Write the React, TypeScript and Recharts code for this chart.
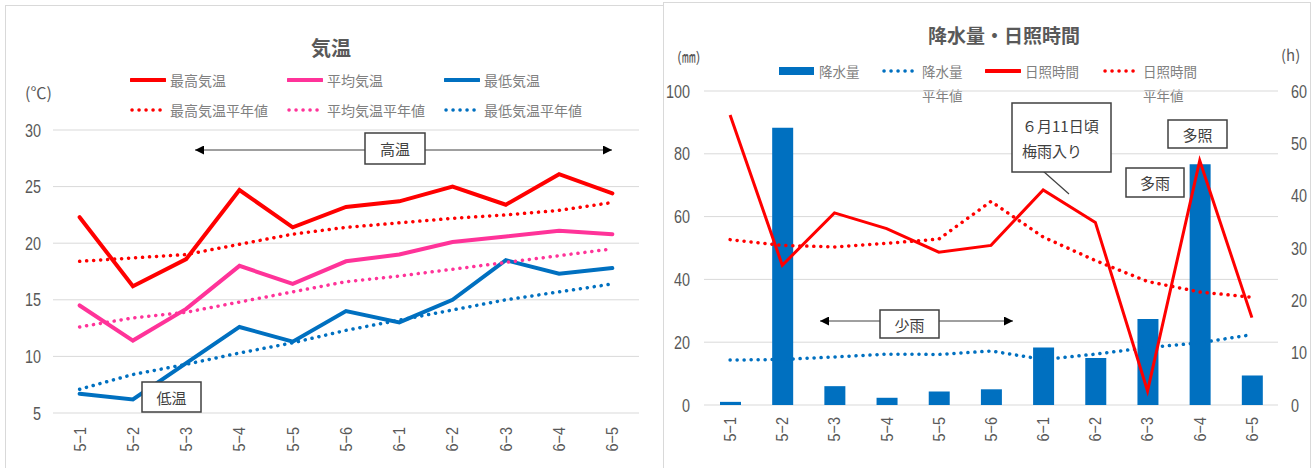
import { Bar, CartesianGrid, ComposedChart, Line, XAxis, YAxis } from 'recharts'

const periods = ['5−1', '5−2', '5−3', '5−4', '5−5', '5−6', '6−1', '6−2', '6−3', '6−4', '6−5']

// 気温 (℃)
const maxTemp = [22.3, 16.2, 18.6, 24.7, 21.4, 23.2, 23.7, 25.0, 23.4, 26.1, 24.4]
const maxTempNormal = [18.4, 18.7, 19.0, 19.9, 20.8, 21.4, 21.8, 22.2, 22.5, 22.9, 23.6]
const meanTemp = [14.5, 11.4, 14.2, 18.0, 16.4, 18.4, 19.0, 20.1, 20.6, 21.1, 20.8]
const meanTempNormal = [12.6, 13.4, 13.9, 14.8, 15.7, 16.6, 17.1, 17.7, 18.3, 18.9, 19.5]
const minTemp = [6.7, 6.2, 9.4, 12.6, 11.3, 14.0, 13.0, 15.0, 18.5, 17.3, 17.8]
const minTempNormal = [7.1, 8.4, 9.3, 10.3, 11.2, 12.3, 13.2, 14.1, 15.0, 15.7, 16.4]
const tempTicks = [5, 10, 15, 20, 25, 30]

// 降水量 (mm) / 日照時間 (h)
const precip = [1.0, 88.3, 6.0, 2.3, 4.3, 5.0, 18.3, 15.0, 27.4, 76.7, 9.4]
const precipNormal = [14.3, 14.5, 15.3, 16.2, 16.1, 17.2, 14.5, 16.2, 18.3, 19.8, 22.4]
const sunshine = [55.4, 26.7, 36.7, 33.7, 29.2, 30.5, 41.1, 34.9, 2.7, 46.7, 16.7]
const sunshineNormal = [31.6, 30.5, 30.2, 30.9, 31.7, 38.9, 32.1, 27.6, 23.6, 21.6, 20.6]
const precipTicks = [0, 20, 40, 60, 80, 100]
const sunshineTicks = [0, 10, 20, 30, 40, 50, 60]

const tempData = periods.map((period, i) => ({
  period,
  maxTemp: maxTemp[i],
  maxTempNormal: maxTempNormal[i],
  meanTemp: meanTemp[i],
  meanTempNormal: meanTempNormal[i],
  minTemp: minTemp[i],
  minTempNormal: minTempNormal[i],
}))

const rainData = periods.map((period, i) => ({
  period,
  precip: precip[i],
  precipNormal: precipNormal[i],
  sunshine: sunshine[i],
  sunshineNormal: sunshineNormal[i],
}))

const RED = '#FF0000'
const PINK = '#FF3399'
const BLUE = '#0070C0'
const GRID = '#D9D9D9'
const TEXT = '#595959'
const LEGEND_TEXT = '#808080'
const JP_FONT = '"Noto Sans CJK JP", "Noto Sans", sans-serif'
const NUM_FONT = '"Liberation Sans", Arial, sans-serif'
const DOTS = '0.1 6.9'

const tempSeries = [
  { key: 'maxTemp', name: '最高気温', color: RED, dotted: false },
  { key: 'meanTemp', name: '平均気温', color: PINK, dotted: false },
  { key: 'minTemp', name: '最低気温', color: BLUE, dotted: false },
  { key: 'maxTempNormal', name: '最高気温平年値', color: RED, dotted: true },
  { key: 'meanTempNormal', name: '平均気温平年値', color: PINK, dotted: true },
  { key: 'minTempNormal', name: '最低気温平年値', color: BLUE, dotted: true },
]

const rainLegend = [
  { name: '降水量', sub: '', color: BLUE, kind: 'bar', x: 778 },
  { name: '降水量', sub: '平年値', color: BLUE, kind: 'dots', x: 881 },
  { name: '日照時間', sub: '', color: RED, kind: 'line', x: 984 },
  { name: '日照時間', sub: '平年値', color: RED, kind: 'dots', x: 1102 },
]

// condensed look of the original's tick font
function RotatedTick(props: any) {
  const { x, y, payload } = props
  return (
    <g transform={`translate(${x},${y}) rotate(-90) scale(0.85,1)`}>
      <text x={0} y={0} textAnchor="end" dominantBaseline="central" fill={TEXT} fontFamily={NUM_FONT} fontSize={17}>
        {payload.value}
      </text>
    </g>
  )
}

function NumTick(props: any) {
  const { x, y, payload, textAnchor } = props
  return (
    <g transform={`translate(${x},${y}) scale(0.8,1)`}>
      <text x={0} y={0} textAnchor={textAnchor} dominantBaseline="central" fill={TEXT} fontFamily={NUM_FONT} fontSize={18}>
        {payload.value}
      </text>
    </g>
  )
}

function Sample({ kind, color }: { kind: string; color: string }) {
  return (
    <svg width={36} height={10} style={{ display: 'block' }}>
      {kind === 'bar' && <rect x={0} y={1} width={35} height={8} fill={color} />}
      {kind === 'line' && <line x1={1} x2={35} y1={5} y2={5} stroke={color} strokeWidth={4} strokeLinecap="round" />}
      {kind === 'dots' && (
        <line x1={2} x2={36} y1={5} y2={5} stroke={color} strokeWidth={3.5} strokeLinecap="round" strokeDasharray={DOTS} />
      )}
    </svg>
  )
}

const abs = (left: number, top: number): React.CSSProperties => ({ position: 'absolute', left, top })

function TempChart() {
  return (
    <div style={{ ...abs(5, 5), width: 700, height: 480, border: `1px solid ${GRID}`, background: '#fff' }}>
      <div style={{ ...abs(0, 27), width: 650, textAlign: 'center', fontFamily: JP_FONT, fontWeight: 700, fontSize: 20, color: TEXT }}>
        気温
      </div>
      <div style={{ ...abs(19, 74), fontFamily: JP_FONT, fontSize: 16, color: TEXT }}>(℃)</div>
      {tempSeries.map((s, i) => (
        <div
          key={s.key}
          style={{ ...abs(124 + (i % 3) * 157, i < 3 ? 64 : 94), display: 'flex', alignItems: 'center', gap: 4 }}
        >
          <Sample kind={s.dotted ? 'dots' : 'line'} color={s.color} />
          <span style={{ fontFamily: JP_FONT, fontSize: 14, color: LEGEND_TEXT, whiteSpace: 'nowrap' }}>{s.name}</span>
        </div>
      ))}
      <div style={abs(-1, -1)}>
        <ComposedChart width={650} height={463} data={tempData} margin={{ top: 125, right: 16, bottom: 0, left: 0 }}>
          <CartesianGrid stroke={GRID} vertical={false} />
          <XAxis
            dataKey="period"
            scale="band"
            axisLine={false}
            tickLine={false}
            tickSize={0}
            tickMargin={14}
            height={55}
            interval={0}
            tick={<RotatedTick />}
          />
          <YAxis
            domain={[5, 30]}
            ticks={tempTicks}
            axisLine={false}
            tickLine={false}
            tickSize={0}
            tickMargin={12}
            width={48}
            tick={<NumTick />}
          />
          {tempSeries.map((s) => (
            <Line
              key={s.key}
              dataKey={s.key}
              name={s.name}
              type="linear"
              stroke={s.color}
              strokeWidth={s.dotted ? 3.5 : 4}
              strokeDasharray={s.dotted ? DOTS : undefined}
              strokeLinecap="round"
              dot={false}
              activeDot={false}
              isAnimationActive={false}
            />
          ))}
        </ComposedChart>
      </div>
    </div>
  )
}

function RainChart() {
  return (
    <div style={{ ...abs(663, 2), width: 646, height: 480, border: `1px solid ${GRID}`, background: '#fff' }}>
      <div style={{ ...abs(0, 18), width: 680, textAlign: 'center', fontFamily: JP_FONT, fontWeight: 700, fontSize: 19, color: TEXT }}>
        降水量・日照時間
      </div>
      <div style={{ ...abs(13, 43), fontFamily: JP_FONT, fontSize: 14, color: TEXT }}>(㎜)</div>
      <div style={{ ...abs(617, 41), fontFamily: JP_FONT, fontSize: 15, color: TEXT }}>(h)</div>
      {rainLegend.map((s, i) => (
        <div key={i} style={{ ...abs(s.x - 663, 58) }}>
          <div style={{ display: 'flex', alignItems: 'center', gap: 4 }}>
            <Sample kind={s.kind} color={s.color} />
            <span style={{ fontFamily: JP_FONT, fontSize: 13.5, color: LEGEND_TEXT, whiteSpace: 'nowrap' }}>{s.name}</span>
          </div>
          {s.sub && (
            <div style={{ marginLeft: 40, marginTop: 4, fontFamily: JP_FONT, fontSize: 13.5, color: LEGEND_TEXT }}>{s.sub}</div>
          )}
        </div>
      ))}
      <div style={abs(-1, -3)}>
        <ComposedChart width={646} height={468} data={rainData} margin={{ top: 91, right: 0, bottom: 0, left: 0 }}>
          <CartesianGrid stroke={GRID} vertical={false} yAxisId="mm" />
          <XAxis
            dataKey="period"
            axisLine={false}
            tickLine={false}
            tickSize={0}
            tickMargin={12}
            height={63}
            interval={0}
            tick={<RotatedTick />}
          />
          <YAxis
            yAxisId="mm"
            domain={[0, 100]}
            ticks={precipTicks}
            axisLine={false}
            tickLine={false}
            tickSize={0}
            tickMargin={14}
            width={41}
            tick={<NumTick />}
          />
          <YAxis
            yAxisId="h"
            orientation="right"
            domain={[0, 60]}
            ticks={sunshineTicks}
            axisLine={false}
            tickLine={false}
            tickSize={0}
            tickMargin={13}
            width={31}
            tick={<NumTick />}
          />
          <Bar yAxisId="mm" dataKey="precip" name="降水量" fill={BLUE} barSize={21} isAnimationActive={false} />
          <Line
            yAxisId="mm"
            dataKey="precipNormal"
            name="降水量平年値"
            stroke={BLUE}
            strokeWidth={3.5}
            strokeDasharray={DOTS}
            strokeLinecap="round"
            dot={false}
            activeDot={false}
            isAnimationActive={false}
          />
          <Line
            yAxisId="h"
            dataKey="sunshine"
            name="日照時間"
            stroke={RED}
            strokeWidth={3}
            dot={false}
            activeDot={false}
            isAnimationActive={false}
          />
          <Line
            yAxisId="h"
            dataKey="sunshineNormal"
            name="日照時間平年値"
            stroke={RED}
            strokeWidth={3.5}
            strokeDasharray={DOTS}
            strokeLinecap="round"
            dot={false}
            activeDot={false}
            isAnimationActive={false}
          />
        </ComposedChart>
      </div>
    </div>
  )
}

function Note({ x, y, w, h, lines, align = 'middle' }: { x: number; y: number; w: number; h: number; lines: string[]; align?: string }) {
  const step = 25
  const first = y + h / 2 - ((lines.length - 1) * step) / 2
  return (
    <g>
      <rect x={x} y={y} width={w} height={h} fill="#fff" stroke="#404040" strokeWidth={1.5} />
      {lines.map((t, i) => (
        <text
          key={i}
          x={align === 'start' ? x + 10 : x + w / 2}
          y={first + i * step}
          textAnchor={align}
          dominantBaseline="central"
          fontFamily={JP_FONT}
          fontSize={15}
          fill="#404040"
        >
          {t}
        </text>
      ))}
    </g>
  )
}

function Annotations() {
  return (
    <svg width={1316} height={468} style={{ ...abs(0, 0), pointerEvents: 'none' }}>
      <defs>
        <marker id="head" viewBox="0 0 10 10" refX={10} refY={5} markerWidth={9} markerHeight={9} markerUnits="userSpaceOnUse" orient="auto-start-reverse">
          <path d="M0,0 L10,5 L0,10 z" fill="#000" />
        </marker>
      </defs>
      <line x1={195} x2={612} y1={150} y2={150} stroke="#404040" strokeWidth={1} markerStart="url(#head)" markerEnd="url(#head)" />
      <Note x={365} y={133} w={60} h={31} lines={['高温']} />
      <Note x={142} y={382} w={59} h={30} lines={['低温']} />
      <line x1={820} x2={1013} y1={321} y2={321} stroke="#404040" strokeWidth={1} markerStart="url(#head)" markerEnd="url(#head)" />
      <Note x={880} y={310} w={59} h={28} lines={['少雨']} />
      <line x1={1043} y1={171} x2={1069} y2={194} stroke="#404040" strokeWidth={1.2} />
      <Note x={1012} y={103} w={99} h={69} lines={['６月11日頃', '梅雨入り']} align="start" />
      <Note x={1168} y={120} w={59} h={28} lines={['多照']} />
      <Note x={1126} y={168} w={58} h={29} lines={['多雨']} />
    </svg>
  )
}

export default function App() {
  return (
    <div style={{ position: 'relative', width: 1316, height: 468, overflow: 'hidden', background: '#fff' }}>
      <style>{'body{margin:0}'}</style>
      <TempChart />
      <RainChart />
      <Annotations />
    </div>
  )
}
